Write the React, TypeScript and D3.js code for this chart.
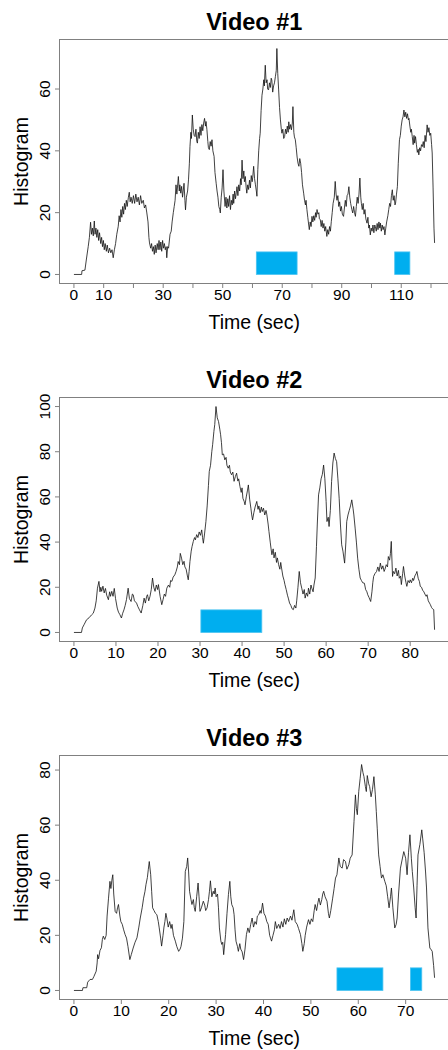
import React, { useEffect, useRef } from 'react';
import * as d3 from 'd3';

// histogram traces, [time (sec), value]
const video1: [number, number][] = [
  [0,0],[2.6,0],[2.7,1.2],[3.7,1.4],[4.2,5],[4.8,9],[5.2,12],[5.6,16.9],[5.9,13],[6.2,15],[6.5,12.5],[6.85,17.3],[7.1,13],[7.4,15],[7.7,12],[8.0,14.5],[8.3,11],[8.6,13.5],[9.0,10],[9.3,12],[9.6,9],[9.9,11],[10.2,8],[10.5,10],[10.9,7.5],[11.2,9.5],[11.6,7],[12.0,8.5],[12.4,7],[12.8,8],[13.2,5.4],[13.6,8],[14.0,10],[14.4,13],[14.9,15.6],[15.2,19],[15.5,17],[15.8,21],[16.1,18.5],[16.4,22],[16.7,19.5],[17.0,23],[17.3,21],[17.6,24],[17.9,22],[18.3,25],[18.6,26.6],[18.9,23.5],[19.2,25],[19.6,23],[20.0,25.5],[20.4,23],[20.8,26],[21.2,23.5],[21.6,25],[22.0,22.5],[22.4,25.5],[22.8,23],[23.3,24],[23.7,21.5],[24.1,22.5],[24.5,19.9],[24.9,17],[25.2,12],[25.4,10.2],[25.8,8.5],[26.1,10],[26.4,7.5],[26.7,9],[27.0,6.5],[27.3,9.5],[27.6,7],[28.0,10],[28.3,8],[28.6,11],[28.9,8],[29.2,10.5],[29.5,7.5],[29.8,11],[30.1,8.5],[30.4,10],[30.7,8],[31.0,9],[31.2,5.4],[31.5,9],[31.8,8.5],[32.3,13],[32.7,14],[33.0,17],[33.4,20],[33.7,22],[34.0,24],[34.3,29],[34.6,26],[35.1,31.7],[35.4,27],[35.6,29],[35.9,26.3],[36.2,28.5],[36.5,25],[37.0,29.5],[37.3,24],[37.5,20.9],[37.8,25],[38.2,27],[38.5,30.6],[38.8,36],[39.0,41.4],[39.3,46],[39.5,44],[39.8,51.6],[40.1,47],[40.4,45],[40.7,44.6],[41.0,47],[41.3,43],[41.5,42.5],[41.8,46],[42.1,44],[42.4,47.8],[42.7,45],[43.0,48.5],[43.3,46.5],[43.6,49],[43.9,50.5],[44.2,48],[44.4,49.5],[44.7,46.8],[45.0,43],[45.2,41],[45.5,40.4],[45.8,43],[46.1,41.5],[46.4,43.6],[46.7,40],[47.1,38.2],[47.4,33],[47.8,29.5],[48.1,27],[48.4,25],[48.7,22],[49.0,21],[49.2,19.9],[49.5,25],[49.8,28],[50.1,33.9],[50.4,27],[50.8,22],[51.1,25],[51.4,21.5],[51.7,24.5],[52.0,22],[52.3,25.5],[52.6,21],[52.9,24],[53.2,22.5],[53.5,26],[53.7,23],[54.0,27],[54.3,24.5],[54.8,28.4],[55.1,25.5],[55.4,29],[55.7,27],[56.0,31],[56.2,29],[56.5,37],[56.8,31],[57.1,33.5],[57.3,30],[57.6,31.7],[57.9,28],[58.1,26.3],[58.4,29],[58.7,27.5],[59.0,30.5],[59.3,28],[59.6,32],[59.9,30],[60.1,31.5],[60.4,35],[60.7,31],[61.0,29],[61.3,27],[61.5,25.3],[61.8,34],[62.1,40],[62.4,44],[62.6,45.7],[62.9,53],[63.2,58],[63.5,60],[63.8,63],[64.0,61],[64.3,67.7],[64.6,62],[64.9,63],[65.1,60],[65.4,59.7],[65.7,62],[66.0,60.5],[66.3,63.5],[66.5,62.9],[66.8,59],[67.1,61],[67.4,62],[67.7,64],[68.0,66],[68.2,73.1],[68.5,65],[68.8,59.7],[69.1,54],[69.4,50],[69.7,47],[69.9,45.7],[70.2,47],[70.5,44],[70.8,44.6],[71.1,47],[71.4,45.5],[71.7,48],[72.0,46],[72.2,49.4],[72.5,47],[72.8,48.5],[73.1,46.8],[73.4,49],[73.6,54.3],[73.9,46],[74.1,44.5],[74.4,43.6],[74.7,41],[75.0,38],[75.3,36],[75.6,35],[75.9,37.5],[76.2,36],[76.5,33],[76.8,29],[77.2,26.3],[77.5,24],[77.8,22.5],[78.0,24],[78.3,21],[78.6,18.5],[78.9,16],[79.1,14.5],[79.4,17],[79.7,15.5],[80.0,18.8],[80.3,17],[80.6,19],[80.9,17.5],[81.2,20],[81.4,18.5],[81.7,21],[82.0,19.5],[82.3,20],[82.5,18],[82.8,17.7],[83.1,15.5],[83.4,17.5],[83.7,15],[84.0,16.5],[84.3,14],[84.6,15.5],[85.0,12.3],[85.3,14.5],[85.6,13],[85.9,15.5],[86.2,14],[86.5,17.2],[86.8,20],[87.1,23],[87.5,25],[87.8,30.1],[88.1,26],[88.4,24],[88.7,25.5],[89.0,22],[89.3,23.5],[89.6,20.5],[89.9,22],[90.2,19.5],[90.6,18.8],[90.9,21.5],[91.2,24],[91.5,22],[91.8,25.5],[92.1,26],[92.4,28.4],[92.7,25],[93.0,23],[93.4,21],[93.7,19.9],[94.0,22],[94.3,20],[94.6,18.8],[94.9,22],[95.2,25],[95.5,23],[95.8,26],[96.1,31.2],[96.4,25],[96.6,23],[96.9,21],[97.2,23],[97.5,19.5],[97.8,21],[98.1,18],[98.5,16.6],[98.8,18.5],[99.1,15],[99.3,16],[99.6,12.8],[99.9,15],[100.2,14],[100.5,16],[100.8,13.5],[101.1,16],[101.3,15.5],[101.6,14],[101.9,16.5],[102.2,14.5],[102.5,17],[102.8,15],[103.0,16.6],[103.3,14],[103.6,16],[103.9,14.5],[104.2,15.5],[104.5,12.8],[104.8,15],[105.1,17],[105.5,19],[105.8,21],[106.1,23],[106.4,22],[106.7,25.5],[107.0,27.4],[107.3,24],[107.6,25.5],[107.9,22.5],[108.1,23.1],[108.4,26],[108.7,28.4],[109.0,36],[109.4,43.6],[109.7,45],[110.0,48],[110.3,50],[110.6,51],[110.9,53.2],[111.2,51],[111.5,52.5],[111.8,50.5],[112.1,52],[112.4,50],[112.6,50.5],[112.9,48],[113.2,46],[113.4,47],[113.7,44.6],[114.0,42],[114.3,45],[114.5,42.5],[114.8,44.6],[115.1,42],[115.4,39.5],[115.7,40.5],[115.9,38.7],[116.2,41],[116.5,40],[116.8,42],[117.1,41.4],[117.4,43],[117.7,41],[118.0,45],[118.3,43],[118.7,48.4],[119.0,46],[119.3,47.5],[119.6,45],[119.9,45.7],[120.2,42],[120.4,39.3],[120.7,28],[121.0,15],[121.2,10.2]
];

const video2: [number, number][] = [
  [0,0],[1.8,0],[2.0,2],[2.4,3.4],[3.0,5.6],[3.6,6.5],[4.2,7.8],[4.6,8.5],[5.0,10.8],[5.3,14],[5.6,19.6],[5.95,22.6],[6.2,18],[6.4,20],[6.6,18.2],[6.9,20.5],[7.2,17.5],[7.5,19.5],[7.8,16.5],[8.2,14.5],[8.5,18],[8.7,16],[9.0,18.2],[9.3,16],[9.6,19.5],[9.9,15],[10.3,10.8],[10.6,9],[10.9,8],[11.3,6.4],[11.6,8.5],[11.9,10],[12.2,12],[12.5,14.5],[12.9,19.6],[13.2,15],[13.6,13.7],[13.9,17],[14.1,16.7],[14.4,14],[14.9,13],[15.2,11.5],[15.6,10],[16.0,8.6],[16.4,12],[16.7,15.2],[17.0,13],[17.3,16],[17.5,16.7],[17.8,14],[18.1,16],[18.4,19],[18.7,24.1],[19.0,20],[19.3,18.2],[19.6,21],[19.9,19],[20.1,21.2],[20.5,16],[20.9,12.3],[21.2,14.5],[21.5,17],[21.8,16],[22.1,19.6],[22.5,21],[22.8,20],[23.0,23],[23.3,22.6],[23.6,24.5],[24.0,25.5],[24.3,27],[24.6,29],[24.8,31.4],[25.1,30],[25.3,35],[25.6,32.9],[25.9,30],[26.2,31.5],[26.4,29],[26.7,28],[27.0,25],[27.2,23.3],[27.4,27],[27.6,31.4],[27.9,36],[28.1,38],[28.4,40.3],[28.7,42],[28.9,41],[29.2,43.3],[29.5,42],[29.8,44.5],[30.1,43],[30.4,45.4],[30.6,42],[30.8,39.5],[31.1,44],[31.4,49.1],[31.7,56],[32.0,65],[32.2,71.3],[32.5,74],[32.8,80],[33.0,83.1],[33.3,89],[33.5,92],[33.8,100],[34.1,95],[34.4,93.4],[34.7,90],[34.9,87.5],[35.1,84],[35.3,78.6],[35.6,79],[35.9,76.4],[36.2,77.5],[36.4,74],[36.7,72.7],[37.0,74],[37.2,71],[37.5,69.8],[37.8,71],[38.1,66.9],[38.4,69],[38.7,70.5],[39.0,67],[39.2,68],[39.5,64.6],[39.8,62],[40.0,64],[40.2,59.4],[40.5,58],[40.7,56.5],[41.0,60],[41.3,63],[41.5,65.3],[41.8,59],[42.1,55],[42.3,52],[42.5,49.8],[42.8,53],[43.1,55.5],[43.5,58],[43.8,54.5],[44.0,56],[44.3,53],[44.6,55.5],[44.8,53.5],[45.1,55],[45.4,52],[45.7,54],[45.9,52.1],[46.2,48],[46.4,44.7],[46.7,40],[46.9,37],[47.1,34.4],[47.4,37],[47.6,33],[47.9,35.5],[48.2,31],[48.4,33],[48.7,30],[49.0,28],[49.2,31],[49.4,28.5],[49.7,25],[50.0,23],[50.2,21.2],[50.5,19],[50.8,16.5],[51.0,15.2],[51.3,13],[51.6,12],[51.9,10.5],[52.2,10.1],[52.5,12],[52.8,10.8],[53.0,14],[53.3,20],[53.6,27],[53.9,22],[54.2,19.6],[54.5,17],[54.8,19],[55.0,15.2],[55.3,17.5],[55.6,16],[55.8,19.6],[56.1,17],[56.4,21],[56.6,19.6],[56.9,18],[57.1,21],[57.4,24.1],[57.7,38],[57.9,48],[58.2,60.9],[58.5,64],[58.8,68],[59.1,70],[59.4,74.1],[59.7,68],[60.0,58],[60.2,49.1],[60.5,51],[60.7,46.9],[61.0,54],[61.3,66.8],[61.6,75],[61.9,79.4],[62.2,77],[62.5,75.6],[62.8,68],[63.1,59.4],[63.4,48],[63.7,38.8],[64.0,36],[64.4,30.7],[64.7,40],[64.9,49.1],[65.2,52],[65.5,54],[65.8,56],[66.1,58.7],[66.4,55],[66.6,52],[66.9,46.2],[67.2,40],[67.5,32.9],[67.8,28],[68.1,24.1],[68.4,23],[68.7,22],[69.1,21.8],[69.4,19],[69.7,18],[69.9,16.7],[70.2,15.5],[70.6,13.7],[70.9,18],[71.1,22],[71.3,24.8],[71.6,26],[72.0,27],[72.3,29],[72.6,27],[72.9,30.7],[73.2,28],[73.5,29.5],[73.8,27],[74.0,28],[74.3,30],[74.6,29],[74.8,33.6],[75.1,32],[75.3,35],[75.5,40.3],[75.8,24.8],[76.0,27],[76.3,26],[76.6,28.5],[76.9,25],[77.2,27.5],[77.4,24],[77.7,25],[77.9,21.2],[78.2,26],[78.4,29.2],[78.7,25],[79.0,22],[79.2,20.4],[79.5,23],[79.8,22],[80.0,23.3],[80.3,22],[80.6,24],[80.8,23],[81.1,25],[81.4,26],[81.6,27],[81.9,24],[82.2,22.5],[82.4,20.4],[82.7,20],[83.0,18.5],[83.2,18.2],[83.5,17],[83.8,16],[84.0,16.7],[84.3,14],[84.6,13],[84.8,12.3],[85.1,11],[85.3,10.5],[85.6,10.1],[85.8,1.2]
];

const video3: [number, number][] = [
  [0,0],[1.8,0],[1.9,1],[2.7,1],[2.9,3],[3.4,4],[3.9,4],[4.2,5],[4.7,7],[4.9,10],[5.0,13],[5.2,11.5],[5.5,14.5],[5.8,15.5],[6.0,18.5],[6.2,19.7],[6.5,18.5],[6.8,20],[7.0,27],[7.3,33.5],[7.6,39.6],[7.8,37],[8.0,40],[8.2,42],[8.4,35],[8.7,28.7],[9.0,28],[9.2,30],[9.4,31.2],[9.7,27],[9.9,25],[10.2,24],[10.5,22],[10.8,20.3],[11.1,19],[11.4,16],[11.8,11.2],[12.1,13],[12.5,15.4],[12.9,17.5],[13.3,19.1],[13.7,23],[14.0,26.3],[14.4,30],[14.7,33.5],[15.0,36],[15.2,38.4],[15.5,41],[15.7,44],[15.9,46.8],[16.2,42],[16.4,36],[16.6,30],[16.9,29],[17.2,28],[17.5,27.5],[17.8,25],[18.0,22.7],[18.3,19],[18.5,16.1],[18.8,20],[19.0,23],[19.2,25],[19.4,28],[19.6,26.3],[19.9,23],[20.2,25],[20.5,22.5],[20.7,24],[21.0,20],[21.4,17.9],[21.7,16],[22.1,14.2],[22.4,15],[22.6,16],[22.9,19],[23.2,25],[23.5,43.2],[23.8,45],[24.0,48.1],[24.2,43],[24.4,36],[24.7,33],[24.9,31.2],[25.2,33],[25.4,30],[25.6,28.7],[25.9,34],[26.2,39],[26.4,34],[26.6,28.7],[26.9,30],[27.3,32.4],[27.6,31],[27.8,29],[28.1,30],[28.4,33],[28.6,36],[28.8,39.8],[29.1,34],[29.4,36],[29.6,35],[29.8,37.2],[30.0,34],[30.3,35],[30.5,30],[30.7,22.7],[31.0,18],[31.2,16.7],[31.4,17.5],[31.6,13],[32.0,20.3],[32.3,28],[32.6,34.8],[32.9,39.6],[33.1,34],[33.3,31.2],[33.6,30],[33.8,27.5],[34.0,22],[34.2,17.9],[34.5,16],[34.7,14.2],[35.0,17],[35.2,15],[35.5,14],[35.8,11.2],[36.1,15],[36.4,20.3],[36.7,22.7],[37.0,21],[37.3,24],[37.6,26.3],[37.9,23],[38.2,25],[38.5,24],[38.7,27],[39.0,27.5],[39.3,29],[39.5,28],[39.8,31.7],[40.1,28],[40.4,27],[40.7,25],[41.0,24],[41.3,20],[41.7,17.9],[42.0,20],[42.3,22],[42.5,25],[42.8,22.5],[43.2,24],[43.5,22.5],[43.8,25],[44.1,23],[44.4,26],[44.7,24],[45.0,26.3],[45.3,25],[45.7,27],[46.0,25.5],[46.4,29.3],[46.7,25],[47.1,24],[47.4,22.5],[47.8,20.3],[48.1,17],[48.3,14.2],[48.6,17],[48.8,20],[49.1,23],[49.5,25.7],[49.8,24],[50.1,26],[50.4,25],[50.7,29],[50.9,31.2],[51.2,29],[51.5,32],[51.7,33.5],[52.0,31],[52.3,33],[52.5,35],[52.7,36],[53.0,34],[53.4,32.4],[53.7,28],[53.9,26.3],[54.2,29],[54.6,33.5],[54.9,37],[55.2,40.8],[55.5,42],[55.9,48.1],[56.2,45],[56.6,44.4],[56.9,47.5],[57.3,46.8],[57.6,44],[58.0,45.6],[58.3,48],[58.7,49.2],[59.1,61.3],[59.4,71],[59.6,66],[59.8,63.8],[60.1,72.2],[60.4,77],[60.7,82],[61.0,79],[61.2,77.6],[61.5,74],[61.7,72.2],[61.9,78],[62.2,75],[62.4,74],[62.7,70.3],[63.0,73],[63.3,77.6],[63.6,71],[63.8,65],[64.0,58.9],[64.3,49.2],[64.6,45],[64.9,40.8],[65.2,42],[65.6,39.6],[65.9,38],[66.2,34],[66.5,30],[66.8,34],[67.0,37.2],[67.3,30],[67.7,22.7],[68.0,24],[68.2,26.3],[68.5,35],[68.9,44.4],[69.2,47],[69.6,50.4],[70.0,48],[70.3,42],[70.6,50],[70.9,56.5],[71.2,48],[71.4,43.2],[71.7,37.2],[72.0,30],[72.2,26.3],[72.4,38],[72.6,49.2],[73.0,53],[73.4,58.3],[73.6,55],[73.9,50],[74.2,43],[74.4,37.2],[74.7,22.7],[75.1,15.4],[75.3,15],[75.6,14.2],[75.9,9],[76.1,4.6]
];

// highlighted intervals (sec) and their bar heights
const marks1: [number, number][] = [[61.3, 75.0], [107.8, 112.9]];
const marks2: [number, number][] = [[30.2, 44.7]];
const marks3: [number, number][] = [[55.5, 65.2], [71.0, 73.4]];
const markHeights = [7.3, 10, 8.2];

// axis ticks
const xTicks1 = d3.range(0, 121, 10);
const xLabels1 = [0, 10, 30, 50, 70, 90, 110];
const xTicks2 = d3.range(0, 81, 10);
const xTicks3 = d3.range(0, 71, 10);
const yTicks1 = [0, 20, 40, 60];
const yTicks2 = [0, 20, 40, 60, 80, 100];
const yTicks3 = [0, 20, 40, 60, 80];

const titles = ['Video #1', 'Video #2', 'Video #3'];

const FONT = '"Liberation Sans", Arial, Helvetica, sans-serif';
const BLUE = '#00AEEF';

const panels = [
  { title: titles[0], data: video1, marks: marks1, markH: markHeights[0], xTicks: xTicks1, xLabels: xLabels1, yTicks: yTicks1, top: 39.5, bottom: 283.5 },
  { title: titles[1], data: video2, marks: marks2, markH: markHeights[1], xTicks: xTicks2, xLabels: xTicks2, yTicks: yTicks2, top: 397.5, bottom: 641.5 },
  { title: titles[2], data: video3, marks: marks3, markH: markHeights[2], xTicks: xTicks3, xLabels: xTicks3, yTicks: yTicks3, top: 755.5, bottom: 999.5 },
];

// R-style 4% range extension
const pad = (ext: [number, number]) => {
  const r = ext[1] - ext[0];
  return [ext[0] - 0.04 * r, ext[1] + 0.04 * r];
};

const App = () => {
  const svgRef = useRef<SVGSVGElement>(null);

  useEffect(() => {
    const svg = d3.select(svgRef.current);
    svg.selectAll('*').remove();

    const left = 59.5;
    const right = 449;

    panels.forEach(p => {
      const x = d3.scaleLinear()
        .domain(pad(d3.extent(p.data, d => d[0]) as [number, number]))
        .range([left, right]);
      const y = d3.scaleLinear()
        .domain(pad(d3.extent(p.data, d => d[1]) as [number, number]))
        .range([p.bottom, p.top]);

      const g = svg.append('g');
      const cx = (left + right) / 2;

      // title
      g.append('text')
        .attr('x', cx)
        .attr('y', p.top - 10)
        .attr('text-anchor', 'middle')
        .attr('font-family', FONT)
        .attr('font-weight', 'bold')
        .attr('font-size', 23.5)
        .attr('fill', '#000')
        .text(p.title);

      // trace
      const line = d3.line<[number, number]>()
        .x(d => x(d[0]))
        .y(d => y(d[1]));
      g.append('path')
        .datum(p.data)
        .attr('fill', 'none')
        .attr('stroke', '#111')
        .attr('stroke-width', 0.8)
        .attr('stroke-linejoin', 'round')
        .attr('d', line);

      // highlighted intervals
      g.selectAll('rect.mark')
        .data(p.marks)
        .join('rect')
        .attr('class', 'mark')
        .attr('x', d => x(d[0]))
        .attr('y', y(p.markH))
        .attr('width', d => x(d[1]) - x(d[0]))
        .attr('height', y(0) - y(p.markH))
        .attr('fill', BLUE)
        .attr('stroke', '#4cc3f1')
        .attr('stroke-width', 0.8);

      // box
      g.append('rect')
        .attr('x', left)
        .attr('y', p.top)
        .attr('width', right - left)
        .attr('height', p.bottom - p.top)
        .attr('fill', 'none')
        .attr('stroke', '#808080')
        .attr('stroke-width', 1);

      // x axis
      g.selectAll('line.xt')
        .data(p.xTicks)
        .join('line')
        .attr('class', 'xt')
        .attr('x1', d => x(d))
        .attr('x2', d => x(d))
        .attr('y1', p.bottom)
        .attr('y2', p.bottom + 4.5)
        .attr('stroke', '#808080');
      g.selectAll('text.xl')
        .data(p.xLabels)
        .join('text')
        .attr('class', 'xl')
        .attr('x', d => x(d))
        .attr('y', p.bottom + 16.5)
        .attr('text-anchor', 'middle')
        .attr('font-family', FONT)
        .attr('font-size', 15.5)
        .text(d => d);
      g.append('text')
        .attr('x', cx)
        .attr('y', p.bottom + 45.5)
        .attr('text-anchor', 'middle')
        .attr('font-family', FONT)
        .attr('font-size', 19.5)
        .text('Time (sec)');

      // y axis
      g.selectAll('line.yt')
        .data(p.yTicks)
        .join('line')
        .attr('class', 'yt')
        .attr('x1', left - 4.5)
        .attr('x2', left)
        .attr('y1', d => y(d))
        .attr('y2', d => y(d))
        .attr('stroke', '#808080');
      g.selectAll('text.yl')
        .data(p.yTicks)
        .join('text')
        .attr('class', 'yl')
        .attr('transform', d => `translate(50,${y(d)}) rotate(-90)`)
        .attr('text-anchor', 'middle')
        .attr('font-family', FONT)
        .attr('font-size', 15.5)
        .text(d => d);
      g.append('text')
        .attr('transform', `translate(28,${(p.top + p.bottom) / 2}) rotate(-90)`)
        .attr('text-anchor', 'middle')
        .attr('font-family', FONT)
        .attr('font-size', 19.5)
        .text('Histogram');
    });
  }, []);

  return (
    <svg
      ref={svgRef}
      width={448}
      height={1050}
      style={{ position: 'absolute', left: 0, top: 0, display: 'block', background: '#fff' }}
    />
  );
};

export default App;
